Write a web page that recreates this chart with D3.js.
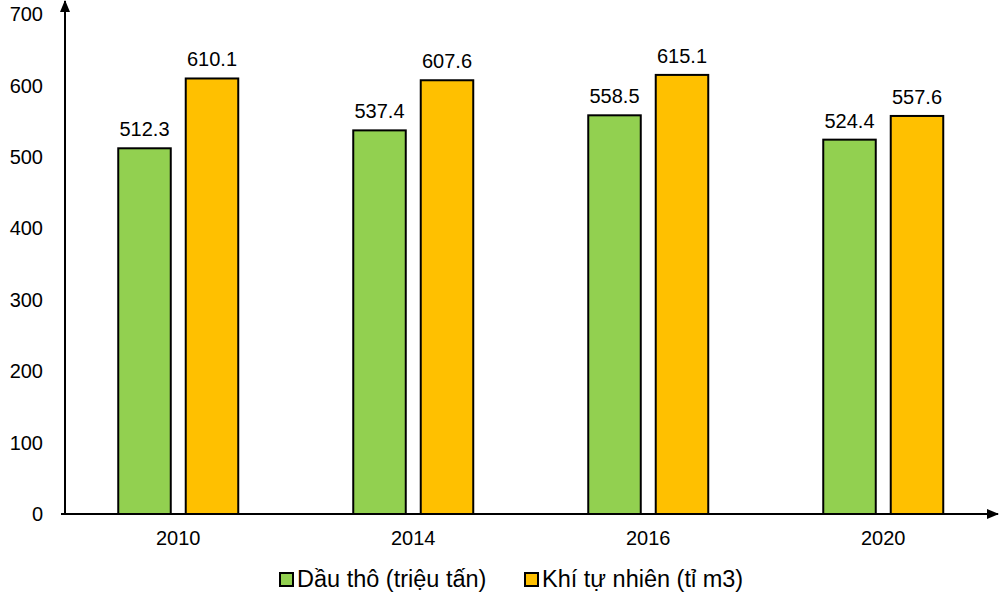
<!DOCTYPE html>
<html>
<head>
<meta charset="utf-8">
<script src="https://cdn.jsdelivr.net/npm/d3@7"></script>
<style>
  body { margin: 0; background: #fff; }
  svg text { font-family: "Liberation Sans", Arial, sans-serif; fill: #000; }
</style>
</head>
<body>
<div id="chart"></div>
<script>
// chart data
var years = ["2010", "2014", "2016", "2020"];
var seriesNames = ["Dầu thô (triệu tấn)", "Khí tự nhiên (tỉ m3)"];
var oilValues = [512.3, 537.4, 558.5, 524.4];
var gasValues = [610.1, 607.6, 615.1, 557.6];
var seriesColors = ["#92D050", "#FFC000"];
var yTicks = [0, 100, 200, 300, 400, 500, 600, 700];

var width = 1004, height = 601;
var svg = d3.select("#chart").append("svg")
    .attr("width", width)
    .attr("height", height);

var defs = svg.append("defs");
defs.append("marker")
    .attr("id", "arrow")
    .attr("viewBox", "0 0 12 10")
    .attr("refX", 11).attr("refY", 5)
    .attr("markerWidth", 12).attr("markerHeight", 10)
    .attr("markerUnits", "userSpaceOnUse")
    .attr("orient", "auto")
    .append("path")
    .attr("d", "M0,0 L12,5 L0,10 Z")
    .attr("fill", "#000");

var x = d3.scaleBand().domain(years).range([60.75, 1000.75]);
var xInner = d3.scaleBand().domain(seriesNames).range([57.5, 177.5]).paddingInner(0.222);
var y = d3.scaleLinear().domain([0, 700]).range([514, 14.3]);

var rows = years.map(function(yr, i) {
    return { year: yr, values: [oilValues[i], gasValues[i]] };
});

// y axis labels
var yAxis = svg.append("g")
    .attr("transform", "translate(65,0)")
    .call(d3.axisLeft(y).tickValues(yTicks).tickSize(0).tickPadding(22).tickFormat(d3.format("d")));
yAxis.select(".domain").remove();
yAxis.selectAll("text").style("font-size", "20px").attr("font-family", null);

// x axis labels
var xAxis = svg.append("g")
    .attr("transform", "translate(0,514)")
    .call(d3.axisBottom(x).tickSize(0).tickPadding(17));
xAxis.select(".domain").remove();
xAxis.selectAll("text").style("font-size", "20px").attr("font-family", null);

// bars
var groups = svg.selectAll("g.year")
    .data(rows)
    .enter().append("g")
    .attr("class", "year")
    .attr("transform", function(d) { return "translate(" + x(d.year) + ",0)"; });

groups.selectAll("rect")
    .data(function(d) { return d.values.map(function(v, k) { return { name: seriesNames[k], v: v, k: k }; }); })
    .enter().append("rect")
    .attr("x", function(d) { return xInner(d.name); })
    .attr("width", xInner.bandwidth())
    .attr("y", function(d) { return y(d.v); })
    .attr("height", function(d) { return y(0) - y(d.v); })
    .attr("fill", function(d) { return seriesColors[d.k]; })
    .attr("stroke", "#000")
    .attr("stroke-width", 2);

groups.selectAll("text.val")
    .data(function(d) { return d.values.map(function(v, k) { return { name: seriesNames[k], v: v }; }); })
    .enter().append("text")
    .attr("class", "val")
    .attr("x", function(d) { return xInner(d.name) + xInner.bandwidth() / 2; })
    .attr("y", function(d) { return y(d.v) - 12; })
    .attr("text-anchor", "middle")
    .style("font-size", "20px")
    .text(function(d) { return d3.format(".1f")(d.v); });

// axis lines with arrows
svg.append("line")
    .attr("x1", 65).attr("y1", 514).attr("x2", 65).attr("y2", 1)
    .attr("stroke", "#000").attr("stroke-width", 2)
    .attr("marker-end", "url(#arrow)");
svg.append("line")
    .attr("x1", 61).attr("y1", 514).attr("x2", 998).attr("y2", 514)
    .attr("stroke", "#000").attr("stroke-width", 2)
    .attr("marker-end", "url(#arrow)");

// legend
var legendX = [280, 525];
var legend = svg.selectAll("g.legend")
    .data(seriesNames)
    .enter().append("g")
    .attr("class", "legend")
    .attr("transform", function(d, i) { return "translate(" + legendX[i] + ",573)"; });
legend.append("rect")
    .attr("width", 13).attr("height", 13)
    .attr("fill", function(d, i) { return seriesColors[i]; })
    .attr("stroke", "#000").attr("stroke-width", 2);
legend.append("text")
    .attr("x", 17).attr("y", 14)
    .style("font-size", "23.5px")
    .text(function(d) { return d; });
</script>
</body>
</html>
